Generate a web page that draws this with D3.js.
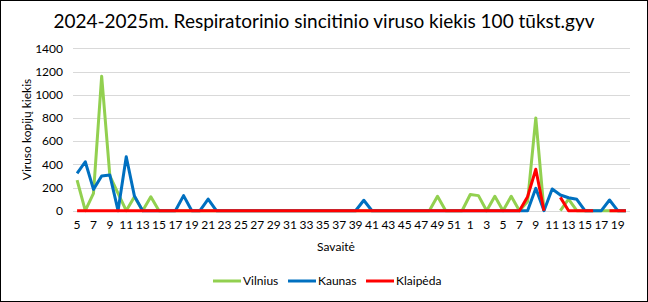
<!DOCTYPE html>
<html>
<head>
<meta charset="utf-8">
<script src="https://cdn.jsdelivr.net/npm/d3@7"></script>
<style>
  body { margin: 0; background: #fff; }
  svg text { font-family: Lato, "Liberation Sans", sans-serif; fill: #000; }
</style>
</head>
<body>
<svg></svg>
<script>
var width = 648;
var height = 302;

// weeks: 2024 w5..w52, then 2025 w1..w20
var weeks = ["5","6","7","8","9","10","11","12","13","14","15","16","17","18","19","20",
  "21","22","23","24","25","26","27","28","29","30","31","32","33","34","35","36",
  "37","38","39","40","41","42","43","44","45","46","47","48","49","50","51","52",
  "1","2","3","4","5","6","7","8","9","10","11","12","13","14","15","16","17","18","19","20"];

var vilnius = [264,0,150,1160,300,150,0,120,0,120,0,0,0,0,0,0,
  0,0,0,0,0,0,0,0,0,0,0,0,0,0,0,0,
  0,0,0,0,0,0,0,0,0,0,0,0,125,0,0,0,
  140,130,0,125,0,125,0,80,800,0,null,0,100,0,0,0,0,0,0,0];

var kaunas = [322,422,184,299,307,0,465,126,0,0,0,0,0,130,0,0,
  100,0,0,0,0,0,0,0,0,0,0,0,0,0,0,0,
  0,0,0,90,0,0,0,0,0,0,0,0,0,0,0,0,
  0,0,0,0,0,0,0,0,193,0,187,135,112,98,0,0,0,92,0,0];

var klaipeda = [0,0,0,0,0,0,0,0,0,0,0,0,0,0,0,0,
  0,0,0,0,0,0,0,0,0,0,0,0,0,0,0,0,
  0,0,0,0,0,0,0,0,0,0,0,0,0,0,0,0,
  0,0,0,0,0,0,0,121,357,0,null,115,0,0,0,0,null,0,0,0];

var seriesNames = ["Vilnius", "Kaunas", "Klaipėda"];
var seriesColors = ["#92d050", "#0070c0", "#ff0000"];
var seriesValues = [vilnius, kaunas, klaipeda];
var yTicks = [0, 200, 400, 600, 800, 1000, 1200, 1400];

var plot = { left: 73, right: 630, top: 48.3, bottom: 210.7 };

var svg = d3.select("svg")
    .attr("width", width)
    .attr("height", height);

svg.append("rect")
    .attr("x", 0.5).attr("y", 0.5)
    .attr("width", width - 1).attr("height", height - 1)
    .attr("fill", "#fff")
    .attr("stroke", "#000");

var idx = weeks.map((d, i) => i);

var x = d3.scaleBand()
    .domain(idx)
    .range([plot.left, plot.right]);

var y = d3.scaleLinear()
    .domain([0, 1400])
    .range([plot.bottom, plot.top]);

// gridlines
svg.append("g")
  .selectAll("line")
  .data(yTicks)
  .enter()
  .append("line")
    .attr("x1", plot.left)
    .attr("x2", plot.right)
    .attr("y1", d => Math.round(y(d)) + 0.5)
    .attr("y2", d => Math.round(y(d)) + 0.5)
    .attr("stroke", "#d9d9d9")
    .attr("stroke-width", 1);

// y axis labels
var yAxis = d3.axisLeft(y)
    .tickValues(yTicks)
    .tickFormat(d3.format("d"))
    .tickSize(0)
    .tickPadding(0);

svg.append("g")
    .attr("transform", `translate(${plot.left - 10}, 0)`)
    .call(yAxis)
    .call(g => g.select(".domain").remove())
    .selectAll("text")
      .style("font-size", "12px");

// x axis labels
var xAxis = d3.axisBottom(x)
    .tickValues(idx.filter(i => i % 2 === 0))
    .tickFormat(i => weeks[i])
    .tickSize(0)
    .tickPadding(0);

svg.append("g")
    .attr("transform", `translate(0, ${plot.bottom + 10})`)
    .call(xAxis)
    .call(g => g.select(".domain").remove())
    .selectAll("text")
      .style("font-size", "12px");

// lines
var line = d3.line()
    .defined(d => d !== null)
    .x((d, i) => x(i) + x.bandwidth() / 2)
    .y(d => y(d));

svg.append("g")
  .selectAll("path")
  .data(seriesValues)
  .enter()
  .append("path")
    .attr("d", line)
    .attr("fill", "none")
    .attr("stroke", (d, i) => seriesColors[i])
    .attr("stroke-width", 3)
    .attr("stroke-linejoin", "round");

// title
svg.append("text")
    .attr("x", width / 2)
    .attr("y", 28)
    .style("text-anchor", "middle")
    .style("font-size", "19px")
    .text("2024-2025m. Respiratorinio sincitinio viruso kiekis 100 tūkst.gyv");

// axis titles
svg.append("text")
    .attr("transform", `translate(31, ${(plot.top + plot.bottom) / 2}) rotate(-90)`)
    .style("text-anchor", "middle")
    .style("font-size", "12px")
    .text("Viruso kopijų kiekis");

svg.append("text")
    .attr("x", 336)
    .attr("y", 251)
    .style("text-anchor", "middle")
    .style("font-size", "12px")
    .text("Savaitė");

// legend
var legendX = [213, 288, 366];
var legend = svg.append("g")
  .selectAll("g")
  .data(seriesNames)
  .enter()
  .append("g")
    .attr("transform", (d, i) => `translate(${legendX[i]}, 281)`);

legend.append("line")
    .attr("x1", 0).attr("x2", 28)
    .attr("y1", 0).attr("y2", 0)
    .attr("stroke", (d, i) => seriesColors[i])
    .attr("stroke-width", 3);

legend.append("text")
    .attr("x", 30)
    .attr("y", 4)
    .style("font-size", "12px")
    .text(d => d);
</script>
</body>
</html>
